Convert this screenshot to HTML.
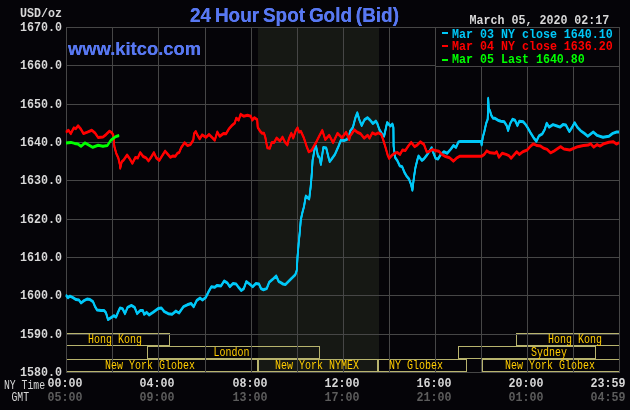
<!DOCTYPE html>
<html><head><meta charset="utf-8"><style>
html,body{margin:0;padding:0;background:#050408;width:630px;height:410px;overflow:hidden}
svg{display:block;will-change:transform}
.p{font-family:"Liberation Mono",monospace;font-weight:bold;font-size:11.67px;fill:#d8d8d8}
.s{font-family:"Liberation Mono",monospace;font-size:10px;fill:#ffcc00}
.t{font-family:"Liberation Sans",sans-serif;font-weight:bold;fill:#5878f2}
.m{font-family:"Liberation Mono",monospace;font-weight:bold;font-size:11.67px}
.r{font-family:"Liberation Mono",monospace;font-size:9.8px;fill:#d8d8d8}
</style></head><body>
<svg width="630" height="410" viewBox="0 0 630 410">
<rect x="0" y="0" width="630" height="410" fill="#050408"/>
<rect x="258" y="27" width="121" height="345" fill="#161814"/>
<rect x="66.5" y="333.5" width="103" height="12" fill="none" stroke="#b8b46e" stroke-width="1"/><rect x="516.5" y="333.5" width="103" height="12" fill="none" stroke="#b8b46e" stroke-width="1"/><rect x="147.5" y="346.5" width="172" height="12" fill="none" stroke="#b8b46e" stroke-width="1"/><rect x="458.5" y="346.5" width="137" height="12" fill="none" stroke="#b8b46e" stroke-width="1"/><rect x="66.5" y="359.5" width="191" height="12" fill="none" stroke="#b8b46e" stroke-width="1"/><rect x="258.5" y="359.5" width="119" height="12" fill="none" stroke="#b8b46e" stroke-width="1"/><rect x="378.5" y="359.5" width="88" height="12" fill="none" stroke="#b8b46e" stroke-width="1"/><rect x="482.5" y="359.5" width="137" height="12" fill="none" stroke="#b8b46e" stroke-width="1"/>
<rect x="66" y="27" width="1" height="346" fill="#464646"/><rect x="112" y="27" width="1" height="346" fill="#464646"/><rect x="158" y="27" width="1" height="346" fill="#464646"/><rect x="205" y="27" width="1" height="346" fill="#464646"/><rect x="251" y="27" width="1" height="346" fill="#464646"/><rect x="297" y="27" width="1" height="346" fill="#464646"/><rect x="343" y="27" width="1" height="346" fill="#464646"/><rect x="389" y="27" width="1" height="346" fill="#464646"/><rect x="435" y="27" width="1" height="346" fill="#464646"/><rect x="481" y="27" width="1" height="346" fill="#464646"/><rect x="527" y="27" width="1" height="346" fill="#464646"/><rect x="573" y="27" width="1" height="346" fill="#464646"/><rect x="619" y="27" width="1" height="346" fill="#464646"/><rect x="66" y="27" width="554" height="1" fill="#464646"/><rect x="66" y="65" width="554" height="1" fill="#464646"/><rect x="66" y="104" width="554" height="1" fill="#464646"/><rect x="66" y="142" width="554" height="1" fill="#464646"/><rect x="66" y="180" width="554" height="1" fill="#464646"/><rect x="66" y="219" width="554" height="1" fill="#464646"/><rect x="66" y="257" width="554" height="1" fill="#464646"/><rect x="66" y="295" width="554" height="1" fill="#464646"/><rect x="66" y="334" width="554" height="1" fill="#464646"/><rect x="66" y="372" width="554" height="1" fill="#464646"/>
<text transform="translate(115,343) scale(1,1.2)" class="s" fill="#ffcc00" text-anchor="middle">Hong Kong</text>
<text transform="translate(575,343) scale(1,1.2)" class="s" fill="#ffcc00" text-anchor="middle">Hong Kong</text>
<text transform="translate(231.5,356) scale(1,1.2)" class="s" fill="#ffcc00" text-anchor="middle">London</text>
<text transform="translate(549,356) scale(1,1.2)" class="s" fill="#ffcc00" text-anchor="middle">Sydney</text>
<text transform="translate(150,369) scale(1,1.2)" class="s" fill="#ffcc00" text-anchor="middle">New York Globex</text>
<text transform="translate(317,369) scale(1,1.2)" class="s" fill="#ffcc00" text-anchor="middle">New York NYMEX</text>
<text transform="translate(416,369) scale(1,1.2)" class="s" fill="#ffcc00" text-anchor="middle">NY Globex</text>
<text transform="translate(550,369) scale(1,1.2)" class="s" fill="#ffcc00" text-anchor="middle">New York Globex</text>
<polyline transform="translate(0,-0.65)" points="66,295.2 68,297.7 70,296.2 73,297.7 76,299.6 79,300 81,303 84,300.6 87,299.1 90,299.6 93,301.6 95,306.5 97,309.9 101,310.4 104,310.4 106,312.8 108,319.6 111,317.7 114,315.7 116,317.2 118,312.3 120,307.9 122.5,308.6 125,313.6 127.6,307.3 131.4,305.4 134.6,307.3 137.1,313.6 140.3,310.5 142.9,310.5 144.1,314.3 146.7,312.4 149.2,314.9 153,312.4 158.1,308.6 161.3,307.9 164.4,311.7 168.3,313.7 172.1,314.3 175.9,311.1 179,313 183.5,306.7 187.3,304.8 191.1,303.5 193.7,306.7 196.8,300.3 200,298.1 202.5,300 205.7,297.5 208.9,291.1 211.4,286.7 214.6,287.3 217.1,285.4 221,286 224.1,281 227.3,282.9 229.8,286.7 233,283.5 236.2,284.1 238.1,286.7 241.3,290.5 243.8,288.6 246.3,281.6 248.9,283.5 252.7,286.7 255.9,283.5 259,284.1 261,288.6 263.5,289.8 266.7,288.6 269.2,282.2 273,279 276.2,275.9 278.7,281.6 280,282.2 283,284 285.4,284.6 290.9,279.1 295.3,274.7 296.8,270.3 297.5,257.1 298.6,244 299.7,233 300.8,219.8 302.5,212.1 304,206.6 305.8,196.1 309.2,199 310.6,187.3 311.6,176.1 312.6,160 313.1,158 315,146.5 316,146 318,156.2 319.4,157.2 320.9,164.5 323.3,147.4 326.2,147.9 328.7,158.2 329.7,161.5 331.6,159.1 335,154.3 338.4,146.5 340.9,140.1 343.8,140.6 346.7,139.6 349.2,136.2 350,131.3 352.9,127.4 355.4,117.7 357.3,112.8 359.3,119.6 361.7,125.5 364.6,119.6 367.6,117.7 370.5,120.6 372.9,123.5 375.9,121.1 377.3,123.5 379.3,129.4 382.2,134.3 384.1,136.2 387.1,122.6 390.5,126 392.4,124 393.4,127.4 393.6,146.2 395.1,157.4 397.5,160.9 399.8,165.9 402.2,166.8 404.6,172.7 406.6,176.1 409,179 411,184.4 412.4,190.2 413.9,177.6 415.4,167.8 417.3,160 418.5,156 421.9,160.4 423.9,158.9 427.3,154.5 431.7,147.7 433.1,152.1 435.6,158.4 437.9,159.1 440.9,154.3 443.8,151.8 447.2,153.3 450.6,149.4 453.5,145.5 456,147.4 458.4,142 460.4,141.4 481.3,141.4 481.6,145 482.8,137.2 484.3,131.8 486.2,123.2 487.7,119.3 488.2,98.3 488.7,108.5 490.1,111 491.1,114.9 493,118.3 495,118.3 497.9,120.2 500.8,121.2 504.2,121.7 506.7,125.6 508.1,130.5 510.1,123.7 512.5,119.3 515,120.2 517.4,125.6 519.3,121.2 523.2,121.7 525.7,124.6 527.6,127.6 530.6,132.9 534,138.3 536.4,141.2 538.9,135.9 542.3,133.9 544.7,129.5 546.7,123.2 549.1,127.1 553,124.6 557,126 560,127.1 562.9,124.6 565.9,125.1 569.3,131.5 571.7,128 574.6,122.7 577.6,127.6 581,131 584.4,133.4 587.8,136.3 593.2,132 597.1,135.4 602.9,137.3 608.8,136.3 612.7,133.4 616.6,132 619,132" fill="none" stroke="#00c8f8" stroke-width="1.7" stroke-linejoin="round"/><polyline transform="translate(0,0)" points="66,295.2 68,297.7 70,296.2 73,297.7 76,299.6 79,300 81,303 84,300.6 87,299.1 90,299.6 93,301.6 95,306.5 97,309.9 101,310.4 104,310.4 106,312.8 108,319.6 111,317.7 114,315.7 116,317.2 118,312.3 120,307.9 122.5,308.6 125,313.6 127.6,307.3 131.4,305.4 134.6,307.3 137.1,313.6 140.3,310.5 142.9,310.5 144.1,314.3 146.7,312.4 149.2,314.9 153,312.4 158.1,308.6 161.3,307.9 164.4,311.7 168.3,313.7 172.1,314.3 175.9,311.1 179,313 183.5,306.7 187.3,304.8 191.1,303.5 193.7,306.7 196.8,300.3 200,298.1 202.5,300 205.7,297.5 208.9,291.1 211.4,286.7 214.6,287.3 217.1,285.4 221,286 224.1,281 227.3,282.9 229.8,286.7 233,283.5 236.2,284.1 238.1,286.7 241.3,290.5 243.8,288.6 246.3,281.6 248.9,283.5 252.7,286.7 255.9,283.5 259,284.1 261,288.6 263.5,289.8 266.7,288.6 269.2,282.2 273,279 276.2,275.9 278.7,281.6 280,282.2 283,284 285.4,284.6 290.9,279.1 295.3,274.7 296.8,270.3 297.5,257.1 298.6,244 299.7,233 300.8,219.8 302.5,212.1 304,206.6 305.8,196.1 309.2,199 310.6,187.3 311.6,176.1 312.6,160 313.1,158 315,146.5 316,146 318,156.2 319.4,157.2 320.9,164.5 323.3,147.4 326.2,147.9 328.7,158.2 329.7,161.5 331.6,159.1 335,154.3 338.4,146.5 340.9,140.1 343.8,140.6 346.7,139.6 349.2,136.2 350,131.3 352.9,127.4 355.4,117.7 357.3,112.8 359.3,119.6 361.7,125.5 364.6,119.6 367.6,117.7 370.5,120.6 372.9,123.5 375.9,121.1 377.3,123.5 379.3,129.4 382.2,134.3 384.1,136.2 387.1,122.6 390.5,126 392.4,124 393.4,127.4 393.6,146.2 395.1,157.4 397.5,160.9 399.8,165.9 402.2,166.8 404.6,172.7 406.6,176.1 409,179 411,184.4 412.4,190.2 413.9,177.6 415.4,167.8 417.3,160 418.5,156 421.9,160.4 423.9,158.9 427.3,154.5 431.7,147.7 433.1,152.1 435.6,158.4 437.9,159.1 440.9,154.3 443.8,151.8 447.2,153.3 450.6,149.4 453.5,145.5 456,147.4 458.4,142 460.4,141.4 481.3,141.4 481.6,145 482.8,137.2 484.3,131.8 486.2,123.2 487.7,119.3 488.2,98.3 488.7,108.5 490.1,111 491.1,114.9 493,118.3 495,118.3 497.9,120.2 500.8,121.2 504.2,121.7 506.7,125.6 508.1,130.5 510.1,123.7 512.5,119.3 515,120.2 517.4,125.6 519.3,121.2 523.2,121.7 525.7,124.6 527.6,127.6 530.6,132.9 534,138.3 536.4,141.2 538.9,135.9 542.3,133.9 544.7,129.5 546.7,123.2 549.1,127.1 553,124.6 557,126 560,127.1 562.9,124.6 565.9,125.1 569.3,131.5 571.7,128 574.6,122.7 577.6,127.6 581,131 584.4,133.4 587.8,136.3 593.2,132 597.1,135.4 602.9,137.3 608.8,136.3 612.7,133.4 616.6,132 619,132" fill="none" stroke="#00c8f8" stroke-width="1.7" stroke-linejoin="round"/><polyline transform="translate(0,0.65)" points="66,295.2 68,297.7 70,296.2 73,297.7 76,299.6 79,300 81,303 84,300.6 87,299.1 90,299.6 93,301.6 95,306.5 97,309.9 101,310.4 104,310.4 106,312.8 108,319.6 111,317.7 114,315.7 116,317.2 118,312.3 120,307.9 122.5,308.6 125,313.6 127.6,307.3 131.4,305.4 134.6,307.3 137.1,313.6 140.3,310.5 142.9,310.5 144.1,314.3 146.7,312.4 149.2,314.9 153,312.4 158.1,308.6 161.3,307.9 164.4,311.7 168.3,313.7 172.1,314.3 175.9,311.1 179,313 183.5,306.7 187.3,304.8 191.1,303.5 193.7,306.7 196.8,300.3 200,298.1 202.5,300 205.7,297.5 208.9,291.1 211.4,286.7 214.6,287.3 217.1,285.4 221,286 224.1,281 227.3,282.9 229.8,286.7 233,283.5 236.2,284.1 238.1,286.7 241.3,290.5 243.8,288.6 246.3,281.6 248.9,283.5 252.7,286.7 255.9,283.5 259,284.1 261,288.6 263.5,289.8 266.7,288.6 269.2,282.2 273,279 276.2,275.9 278.7,281.6 280,282.2 283,284 285.4,284.6 290.9,279.1 295.3,274.7 296.8,270.3 297.5,257.1 298.6,244 299.7,233 300.8,219.8 302.5,212.1 304,206.6 305.8,196.1 309.2,199 310.6,187.3 311.6,176.1 312.6,160 313.1,158 315,146.5 316,146 318,156.2 319.4,157.2 320.9,164.5 323.3,147.4 326.2,147.9 328.7,158.2 329.7,161.5 331.6,159.1 335,154.3 338.4,146.5 340.9,140.1 343.8,140.6 346.7,139.6 349.2,136.2 350,131.3 352.9,127.4 355.4,117.7 357.3,112.8 359.3,119.6 361.7,125.5 364.6,119.6 367.6,117.7 370.5,120.6 372.9,123.5 375.9,121.1 377.3,123.5 379.3,129.4 382.2,134.3 384.1,136.2 387.1,122.6 390.5,126 392.4,124 393.4,127.4 393.6,146.2 395.1,157.4 397.5,160.9 399.8,165.9 402.2,166.8 404.6,172.7 406.6,176.1 409,179 411,184.4 412.4,190.2 413.9,177.6 415.4,167.8 417.3,160 418.5,156 421.9,160.4 423.9,158.9 427.3,154.5 431.7,147.7 433.1,152.1 435.6,158.4 437.9,159.1 440.9,154.3 443.8,151.8 447.2,153.3 450.6,149.4 453.5,145.5 456,147.4 458.4,142 460.4,141.4 481.3,141.4 481.6,145 482.8,137.2 484.3,131.8 486.2,123.2 487.7,119.3 488.2,98.3 488.7,108.5 490.1,111 491.1,114.9 493,118.3 495,118.3 497.9,120.2 500.8,121.2 504.2,121.7 506.7,125.6 508.1,130.5 510.1,123.7 512.5,119.3 515,120.2 517.4,125.6 519.3,121.2 523.2,121.7 525.7,124.6 527.6,127.6 530.6,132.9 534,138.3 536.4,141.2 538.9,135.9 542.3,133.9 544.7,129.5 546.7,123.2 549.1,127.1 553,124.6 557,126 560,127.1 562.9,124.6 565.9,125.1 569.3,131.5 571.7,128 574.6,122.7 577.6,127.6 581,131 584.4,133.4 587.8,136.3 593.2,132 597.1,135.4 602.9,137.3 608.8,136.3 612.7,133.4 616.6,132 619,132" fill="none" stroke="#00c8f8" stroke-width="1.7" stroke-linejoin="round"/>
<polyline transform="translate(0,-0.65)" points="66,132.1 68.4,130.2 70.8,133.6 73.8,127.8 75.7,128.7 78.1,125.8 80.6,128.7 83.5,133.6 87.4,132.1 91.8,130.2 95.2,133.1 98.1,137.5 103,137 106,134.6 109.4,131.2 111.8,132.6 113.3,135.1 114.4,146.7 116.3,153.5 118.3,157.9 119.8,164.3 120.2,168.2 121.7,161.8 123.7,159.9 127.1,155 129.5,158.4 132.4,163.3 135.4,157.4 137.8,157.9 140.2,152.6 143.2,156.5 146.1,157.9 148.5,160.9 151,157.4 153.9,152.6 156.3,157.9 159.3,160.4 161.7,156.5 165.1,151.1 168,154.5 170.4,157.3 172.9,155.9 175.3,156.3 177.3,153.4 179.2,152.4 181.2,147.6 184.6,142.7 187.5,145.6 190.4,144.6 193.4,139.8 193.9,133.9 195.8,131.5 197.3,134.9 199.7,138.8 202.1,134.9 206,137.3 209,134.4 211.4,136.8 214.8,140.2 217.3,132 219.7,136.3 223.6,133.4 226,133.8 228.9,128.9 231.9,125.5 234.8,123 236.2,118.2 238.7,120.1 240.6,114.3 243.6,116.2 247.5,115.2 250.9,116.2 252.3,120.1 254.3,117.7 257.2,119.6 257.7,127.4 260.6,131.8 262,133.2 264,133.2 265.4,137.6 266.4,143.4 267.4,147.8 269.8,148.3 271.8,142.4 274.2,142.4 276.6,138 280,141 282.5,137.1 284.9,142 287.4,144.9 288.8,139 291.3,133.2 293.2,138 295.7,130.7 297.6,127.8 299.1,132.2 300.9,131.3 303.8,137.7 306.7,146.5 308.7,151.8 311.6,150.4 314,146 316.5,141.6 319.4,135.7 322.3,130.4 325.3,139.6 329.2,135.2 333.1,142.6 337.5,133.3 341.9,137.7 346.2,132.3 349.2,139.6 350,136.2 354.4,129.9 357.3,132.3 360.7,133.8 364.1,138.2 367.6,135.2 369.5,138.2 372.4,132.8 375.4,134.3 378.3,132.8 381.2,134.3 382.9,138.9 385.3,146.7 387.8,155.5 389.2,158.4 391.7,155.5 395.1,153 397.5,152.6 400,154.5 402.4,150.1 405.3,150.6 408.2,146.2 411.2,142.3 414.6,146.7 417,145.2 420.4,141.8 423.9,144.3 426.8,152.1 429.7,151.1 432.6,149.6 435,150.4 438.9,151.3 441.8,154.3 444.8,156.2 449.6,157.7 453.5,161.1 456.5,158.2 459.9,156.2 481.8,156.2 484.3,154.3 486.7,150.9 490.1,152.8 495,153.3 496.7,151.7 498.9,157.2 502.2,153.3 506.1,154.4 508.9,155.6 511.1,158.3 513.9,155 516.7,151.7 519.4,154.4 522.8,151.7 527.2,150 530.6,146.1 533.3,143.9 537.2,145.6 540.6,146.1 543.9,148.3 547.2,149.4 550.6,152.8 553.9,151.1 557.2,148.9 560.6,146.7 563.9,149 569.8,150 576.6,147.1 583.4,145.6 588.3,145.1 590.7,143.7 593.7,147.1 597.1,144.6 600,146.1 603.9,143.7 608.8,142.2 613.2,141.7 616.6,144.1 619,142.7" fill="none" stroke="#ff0000" stroke-width="1.7" stroke-linejoin="round"/><polyline transform="translate(0,0)" points="66,132.1 68.4,130.2 70.8,133.6 73.8,127.8 75.7,128.7 78.1,125.8 80.6,128.7 83.5,133.6 87.4,132.1 91.8,130.2 95.2,133.1 98.1,137.5 103,137 106,134.6 109.4,131.2 111.8,132.6 113.3,135.1 114.4,146.7 116.3,153.5 118.3,157.9 119.8,164.3 120.2,168.2 121.7,161.8 123.7,159.9 127.1,155 129.5,158.4 132.4,163.3 135.4,157.4 137.8,157.9 140.2,152.6 143.2,156.5 146.1,157.9 148.5,160.9 151,157.4 153.9,152.6 156.3,157.9 159.3,160.4 161.7,156.5 165.1,151.1 168,154.5 170.4,157.3 172.9,155.9 175.3,156.3 177.3,153.4 179.2,152.4 181.2,147.6 184.6,142.7 187.5,145.6 190.4,144.6 193.4,139.8 193.9,133.9 195.8,131.5 197.3,134.9 199.7,138.8 202.1,134.9 206,137.3 209,134.4 211.4,136.8 214.8,140.2 217.3,132 219.7,136.3 223.6,133.4 226,133.8 228.9,128.9 231.9,125.5 234.8,123 236.2,118.2 238.7,120.1 240.6,114.3 243.6,116.2 247.5,115.2 250.9,116.2 252.3,120.1 254.3,117.7 257.2,119.6 257.7,127.4 260.6,131.8 262,133.2 264,133.2 265.4,137.6 266.4,143.4 267.4,147.8 269.8,148.3 271.8,142.4 274.2,142.4 276.6,138 280,141 282.5,137.1 284.9,142 287.4,144.9 288.8,139 291.3,133.2 293.2,138 295.7,130.7 297.6,127.8 299.1,132.2 300.9,131.3 303.8,137.7 306.7,146.5 308.7,151.8 311.6,150.4 314,146 316.5,141.6 319.4,135.7 322.3,130.4 325.3,139.6 329.2,135.2 333.1,142.6 337.5,133.3 341.9,137.7 346.2,132.3 349.2,139.6 350,136.2 354.4,129.9 357.3,132.3 360.7,133.8 364.1,138.2 367.6,135.2 369.5,138.2 372.4,132.8 375.4,134.3 378.3,132.8 381.2,134.3 382.9,138.9 385.3,146.7 387.8,155.5 389.2,158.4 391.7,155.5 395.1,153 397.5,152.6 400,154.5 402.4,150.1 405.3,150.6 408.2,146.2 411.2,142.3 414.6,146.7 417,145.2 420.4,141.8 423.9,144.3 426.8,152.1 429.7,151.1 432.6,149.6 435,150.4 438.9,151.3 441.8,154.3 444.8,156.2 449.6,157.7 453.5,161.1 456.5,158.2 459.9,156.2 481.8,156.2 484.3,154.3 486.7,150.9 490.1,152.8 495,153.3 496.7,151.7 498.9,157.2 502.2,153.3 506.1,154.4 508.9,155.6 511.1,158.3 513.9,155 516.7,151.7 519.4,154.4 522.8,151.7 527.2,150 530.6,146.1 533.3,143.9 537.2,145.6 540.6,146.1 543.9,148.3 547.2,149.4 550.6,152.8 553.9,151.1 557.2,148.9 560.6,146.7 563.9,149 569.8,150 576.6,147.1 583.4,145.6 588.3,145.1 590.7,143.7 593.7,147.1 597.1,144.6 600,146.1 603.9,143.7 608.8,142.2 613.2,141.7 616.6,144.1 619,142.7" fill="none" stroke="#ff0000" stroke-width="1.7" stroke-linejoin="round"/><polyline transform="translate(0,0.65)" points="66,132.1 68.4,130.2 70.8,133.6 73.8,127.8 75.7,128.7 78.1,125.8 80.6,128.7 83.5,133.6 87.4,132.1 91.8,130.2 95.2,133.1 98.1,137.5 103,137 106,134.6 109.4,131.2 111.8,132.6 113.3,135.1 114.4,146.7 116.3,153.5 118.3,157.9 119.8,164.3 120.2,168.2 121.7,161.8 123.7,159.9 127.1,155 129.5,158.4 132.4,163.3 135.4,157.4 137.8,157.9 140.2,152.6 143.2,156.5 146.1,157.9 148.5,160.9 151,157.4 153.9,152.6 156.3,157.9 159.3,160.4 161.7,156.5 165.1,151.1 168,154.5 170.4,157.3 172.9,155.9 175.3,156.3 177.3,153.4 179.2,152.4 181.2,147.6 184.6,142.7 187.5,145.6 190.4,144.6 193.4,139.8 193.9,133.9 195.8,131.5 197.3,134.9 199.7,138.8 202.1,134.9 206,137.3 209,134.4 211.4,136.8 214.8,140.2 217.3,132 219.7,136.3 223.6,133.4 226,133.8 228.9,128.9 231.9,125.5 234.8,123 236.2,118.2 238.7,120.1 240.6,114.3 243.6,116.2 247.5,115.2 250.9,116.2 252.3,120.1 254.3,117.7 257.2,119.6 257.7,127.4 260.6,131.8 262,133.2 264,133.2 265.4,137.6 266.4,143.4 267.4,147.8 269.8,148.3 271.8,142.4 274.2,142.4 276.6,138 280,141 282.5,137.1 284.9,142 287.4,144.9 288.8,139 291.3,133.2 293.2,138 295.7,130.7 297.6,127.8 299.1,132.2 300.9,131.3 303.8,137.7 306.7,146.5 308.7,151.8 311.6,150.4 314,146 316.5,141.6 319.4,135.7 322.3,130.4 325.3,139.6 329.2,135.2 333.1,142.6 337.5,133.3 341.9,137.7 346.2,132.3 349.2,139.6 350,136.2 354.4,129.9 357.3,132.3 360.7,133.8 364.1,138.2 367.6,135.2 369.5,138.2 372.4,132.8 375.4,134.3 378.3,132.8 381.2,134.3 382.9,138.9 385.3,146.7 387.8,155.5 389.2,158.4 391.7,155.5 395.1,153 397.5,152.6 400,154.5 402.4,150.1 405.3,150.6 408.2,146.2 411.2,142.3 414.6,146.7 417,145.2 420.4,141.8 423.9,144.3 426.8,152.1 429.7,151.1 432.6,149.6 435,150.4 438.9,151.3 441.8,154.3 444.8,156.2 449.6,157.7 453.5,161.1 456.5,158.2 459.9,156.2 481.8,156.2 484.3,154.3 486.7,150.9 490.1,152.8 495,153.3 496.7,151.7 498.9,157.2 502.2,153.3 506.1,154.4 508.9,155.6 511.1,158.3 513.9,155 516.7,151.7 519.4,154.4 522.8,151.7 527.2,150 530.6,146.1 533.3,143.9 537.2,145.6 540.6,146.1 543.9,148.3 547.2,149.4 550.6,152.8 553.9,151.1 557.2,148.9 560.6,146.7 563.9,149 569.8,150 576.6,147.1 583.4,145.6 588.3,145.1 590.7,143.7 593.7,147.1 597.1,144.6 600,146.1 603.9,143.7 608.8,142.2 613.2,141.7 616.6,144.1 619,142.7" fill="none" stroke="#ff0000" stroke-width="1.7" stroke-linejoin="round"/>
<polyline transform="translate(0,-0.65)" points="66,142.9 70.8,142.4 74.7,143.4 77.7,143.9 81.1,146.3 85,142.9 88.4,144.8 92.8,147.3 98.1,145.3 103,146.3 107.4,145.5 110.8,140.4 113.9,137.9 116,136.5 119.1,135.5" fill="none" stroke="#00ff00" stroke-width="1.7" stroke-linejoin="round"/><polyline transform="translate(0,0)" points="66,142.9 70.8,142.4 74.7,143.4 77.7,143.9 81.1,146.3 85,142.9 88.4,144.8 92.8,147.3 98.1,145.3 103,146.3 107.4,145.5 110.8,140.4 113.9,137.9 116,136.5 119.1,135.5" fill="none" stroke="#00ff00" stroke-width="1.7" stroke-linejoin="round"/><polyline transform="translate(0,0.65)" points="66,142.9 70.8,142.4 74.7,143.4 77.7,143.9 81.1,146.3 85,142.9 88.4,144.8 92.8,147.3 98.1,145.3 103,146.3 107.4,145.5 110.8,140.4 113.9,137.9 116,136.5 119.1,135.5" fill="none" stroke="#00ff00" stroke-width="1.7" stroke-linejoin="round"/>
<rect x="435.5" y="27.5" width="184" height="39" fill="#050408" stroke="#464646" stroke-width="1"/>
<text transform="translate(62,31) scale(1,1.08)" class="m" fill="#d8d8d8" text-anchor="end">1670.0</text><text transform="translate(62,69) scale(1,1.08)" class="m" fill="#d8d8d8" text-anchor="end">1660.0</text><text transform="translate(62,108) scale(1,1.08)" class="m" fill="#d8d8d8" text-anchor="end">1650.0</text><text transform="translate(62,146) scale(1,1.08)" class="m" fill="#d8d8d8" text-anchor="end">1640.0</text><text transform="translate(62,184) scale(1,1.08)" class="m" fill="#d8d8d8" text-anchor="end">1630.0</text><text transform="translate(62,223) scale(1,1.08)" class="m" fill="#d8d8d8" text-anchor="end">1620.0</text><text transform="translate(62,261) scale(1,1.08)" class="m" fill="#d8d8d8" text-anchor="end">1610.0</text><text transform="translate(62,299) scale(1,1.08)" class="m" fill="#d8d8d8" text-anchor="end">1600.0</text><text transform="translate(62,338) scale(1,1.08)" class="m" fill="#d8d8d8" text-anchor="end">1590.0</text><text transform="translate(62,376) scale(1,1.08)" class="m" fill="#d8d8d8" text-anchor="end">1580.0</text>
<text x="190" y="22" class="t" font-size="20" word-spacing="-1.5" textLength="209" lengthAdjust="spacingAndGlyphs">24 Hour Spot Gold (Bid)</text>
<text transform="translate(68,55) scale(1,1.08)" class="t" font-size="17" textLength="133" lengthAdjust="spacingAndGlyphs">www.kitco.com</text>
<text transform="translate(62,17) scale(1,1.08)" class="m" fill="#d8d8d8" text-anchor="end">USD/oz</text>
<text transform="translate(469.5,24) scale(1,1.08)" class="m" fill="#d8d8d8" text-anchor="start">March 05, 2020 02:17</text>
<text transform="translate(452,38) scale(1,1.08)" class="m" fill="#00c8f8" text-anchor="start">Mar 03 NY close 1640.10</text>
<text transform="translate(452,50) scale(1,1.08)" class="m" fill="#ff0000" text-anchor="start">Mar 04 NY close 1636.20</text>
<text transform="translate(452,63) scale(1,1.08)" class="m" fill="#00ff00" text-anchor="start">Mar 05 Last 1640.80</text>
<rect x="442" y="32" width="6" height="2" fill="#00c8f8"/>
<rect x="442" y="45" width="6" height="2" fill="#ff0000"/>
<rect x="442" y="59" width="6" height="2" fill="#00ff00"/>
<text transform="translate(4,389) scale(1,1.23)" class="r" fill="#d8d8d8" text-anchor="start">NY Time</text>
<text transform="translate(11.5,401) scale(1,1.23)" class="r" fill="#d8d8d8" text-anchor="start">GMT</text>
<text transform="translate(65,387) scale(1,1.08)" class="m" fill="#d8d8d8" text-anchor="middle">00:00</text>
<text transform="translate(65,401) scale(1,1.08)" class="m" fill="#5c5c5c" text-anchor="middle">05:00</text>
<text transform="translate(157,387) scale(1,1.08)" class="m" fill="#d8d8d8" text-anchor="middle">04:00</text>
<text transform="translate(157,401) scale(1,1.08)" class="m" fill="#5c5c5c" text-anchor="middle">09:00</text>
<text transform="translate(250,387) scale(1,1.08)" class="m" fill="#d8d8d8" text-anchor="middle">08:00</text>
<text transform="translate(250,401) scale(1,1.08)" class="m" fill="#5c5c5c" text-anchor="middle">13:00</text>
<text transform="translate(342,387) scale(1,1.08)" class="m" fill="#d8d8d8" text-anchor="middle">12:00</text>
<text transform="translate(342,401) scale(1,1.08)" class="m" fill="#5c5c5c" text-anchor="middle">17:00</text>
<text transform="translate(434,387) scale(1,1.08)" class="m" fill="#d8d8d8" text-anchor="middle">16:00</text>
<text transform="translate(434,401) scale(1,1.08)" class="m" fill="#5c5c5c" text-anchor="middle">21:00</text>
<text transform="translate(526,387) scale(1,1.08)" class="m" fill="#d8d8d8" text-anchor="middle">20:00</text>
<text transform="translate(526,401) scale(1,1.08)" class="m" fill="#5c5c5c" text-anchor="middle">01:00</text>
<text transform="translate(625.5,387) scale(1,1.08)" class="m" fill="#d8d8d8" text-anchor="end">23:59</text>
<text transform="translate(625.5,401) scale(1,1.08)" class="m" fill="#5c5c5c" text-anchor="end">04:59</text>
<text x="190" y="22" class="t" font-size="20" word-spacing="-1.5" textLength="209" lengthAdjust="spacingAndGlyphs">24 Hour Spot Gold (Bid)</text>
<text transform="translate(68,55) scale(1,1.08)" class="t" font-size="17" textLength="133" lengthAdjust="spacingAndGlyphs">www.kitco.com</text>
</svg>
</body></html>
